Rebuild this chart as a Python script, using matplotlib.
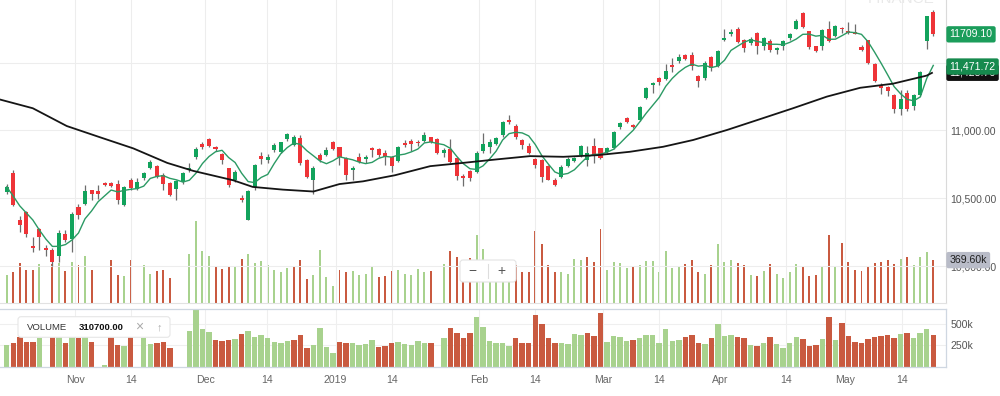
import numpy as np
import pandas as pd
import matplotlib
matplotlib.use("Agg")
import matplotlib.pyplot as plt
import matplotlib.transforms as mtransforms
from matplotlib.patches import FancyBboxPatch
from matplotlib.lines import Line2D

# daily candles, oldest first
opens = [
    10547, 10690, 10337, 10398, 10146, 10275, 10131, 10120, 10077, 10233,
    10201, 10435, 10461, 10559, 10554, 10616, 10616, 10604, 10448, 10638,
    10572, 10646, 10727, 10737, 10670, 10614, 10565, 10621, 10707, 10801,
    10898, 10935, 10876, 10826, 10720, 10633, 10505, 10342, 10584, 10811,
    10781, 10855, 10843, 10935, 10893, 10942, 10781, 10633, 10818, 10818,
    10917, 10876, 10794, 10705, 10806, 10787, 10868, 10861, 10836, 10806,
    10776, 10905, 10920, 10917, 10924, 10950, 10935, 10836, 10861, 10794,
    10668, 10702, 10695, 10850, 10880, 10900, 10967, 11078, 11033, 10930,
    10887, 10787, 10781, 10739, 10633, 10658, 10737, 10776, 10818, 10781,
    10885, 10868, 10843, 10868, 11024, 11090, 11041, 11078, 11239, 11332,
    11387, 11382, 11484, 11510, 11560, 11560, 11404, 11387, 11542, 11473,
    11665, 11713, 11750, 11671, 11646, 11720, 11621, 11658, 11591, 11621,
    11683, 11750, 11868, 11732, 11621, 11621, 11745, 11695, 11757, 11732,
    11730, 11614, 11665, 11490, 11337, 11320, 11263, 11157, 11280, 11182,
    11263, 11659, 11873]
highs = [
    10604, 10707, 10369, 10406, 10218, 10280, 10152, 10137, 10268, 10268,
    10398, 10455, 10601, 10562, 10596, 10621, 10621, 10638, 10589, 10650,
    10646, 10695, 10781, 10744, 10683, 10621, 10638, 10695, 10757, 10876,
    10917, 10942, 10885, 10831, 10727, 10707, 10522, 10559, 10750, 10843,
    10826, 10905, 10917, 10984, 10967, 10967, 10787, 10737, 10836, 10876,
    10924, 10880, 10806, 10737, 10836, 10818, 10876, 10868, 10855, 10811,
    10885, 10930, 10935, 10930, 10991, 10954, 10942, 10868, 10935, 10806,
    10680, 10707, 10850, 10984, 10935, 10950, 11073, 11115, 11048, 10935,
    10910, 10794, 10787, 10744, 10646, 10744, 10806, 10806, 10893, 10885,
    10942, 10872, 10880, 10996, 11065, 11102, 11048, 11182, 11320, 11354,
    11394, 11490, 11535, 11565, 11567, 11579, 11411, 11510, 11552, 11597,
    11745, 11745, 11762, 11676, 11691, 11725, 11691, 11676, 11614, 11665,
    11720, 11819, 11873, 11737, 11626, 11750, 11806, 11775, 11765, 11799,
    11782, 11634, 11671, 11498, 11350, 11330, 11270, 11295, 11295, 11270,
    11441, 11848, 11888]
lows = [
    10530, 10441, 10250, 10218, 10102, 10115, 10078, 10003, 10030, 10176,
    10102, 10349, 10448, 10485, 10498, 10591, 10584, 10461, 10441, 10559,
    10559, 10633, 10713, 10646, 10559, 10515, 10490, 10604, 10695, 10787,
    10861, 10876, 10850, 10752, 10584, 10621, 10472, 10337, 10559, 10752,
    10761, 10843, 10831, 10924, 10885, 10744, 10646, 10535, 10769, 10811,
    10855, 10744, 10633, 10633, 10757, 10757, 10806, 10806, 10744, 10695,
    10769, 10880, 10850, 10885, 10917, 10910, 10824, 10806, 10757, 10633,
    10589, 10628, 10683, 10831, 10831, 10893, 10954, 11048, 10935, 10861,
    10826, 10720, 10621, 10633, 10589, 10653, 10732, 10764, 10806, 10737,
    10757, 10787, 10836, 10861, 11009, 11053, 11016, 11073, 11231, 11280,
    11337, 11374, 11428, 11498, 11522, 11448, 11320, 11374, 11436, 11465,
    11658, 11700, 11646, 11577, 11633, 11567, 11597, 11577, 11567, 11597,
    11671, 11745, 11757, 11602, 11577, 11597, 11651, 11690, 11720, 11715,
    11715, 11584, 11493, 11354, 11270, 11256, 11127, 11115, 11147, 11152,
    11256, 11602, 11695]
closes = [
    10584, 10448, 10300, 10238, 10131, 10213, 10115, 10028, 10243, 10194,
    10381, 10375, 10552, 10530, 10535, 10596, 10591, 10485, 10584, 10576,
    10621, 10683, 10769, 10658, 10604, 10522, 10628, 10687, 10727, 10861,
    10880, 10885, 10863, 10781, 10596, 10695, 10490, 10554, 10744, 10787,
    10806, 10893, 10913, 10972, 10954, 10757, 10658, 10727, 10779, 10855,
    10863, 10806, 10670, 10727, 10769, 10806, 10853, 10818, 10801, 10740,
    10880, 10890, 10900, 10905, 10967, 10917, 10831, 10855, 10769, 10665,
    10652, 10648, 10831, 10900, 10917, 10942, 11060, 11066, 10950, 10893,
    10831, 10744, 10658, 10638, 10601, 10732, 10787, 10794, 10885, 10836,
    10818, 10794, 10868, 10991, 11058, 11065, 11024, 11176, 11313, 11350,
    11355, 11436, 11468, 11542, 11528, 11473, 11362, 11498, 11461, 11584,
    11683, 11728, 11651, 11609, 11676, 11621, 11683, 11591, 11609, 11658,
    11708, 11806, 11765, 11616, 11584, 11740, 11658, 11769, 11745, 11720,
    11715, 11596, 11498, 11362, 11313, 11288, 11157, 11231, 11157, 11263,
    11428, 11843, 11709.1]
# volume in thousands (0 = no data that day)
volumes = [
    253, 273, 344, 292, 292, 338, 0, 340, 350, 280,
    355, 331, 401, 292, 0, 19, 368, 253, 242, 368,
    0, 330, 261, 280, 292, 223, 0, 0, 415, 680,
    442, 400, 311, 300, 311, 319, 376, 415, 349, 365,
    330, 292, 273, 303, 311, 369, 215, 253, 453, 234,
    165, 292, 273, 280, 253, 261, 311, 234, 242, 280,
    288, 261, 253, 300, 273, 280, 0, 338, 445, 395,
    338, 388, 572, 457, 303, 273, 280, 242, 330, 273,
    273, 599, 495, 330, 273, 273, 261, 376, 369, 395,
    357, 618, 292, 357, 349, 303, 311, 330, 365, 365,
    273, 442, 303, 311, 342, 369, 273, 261, 330, 495,
    357, 369, 349, 330, 253, 242, 280, 342, 261, 223,
    273, 342, 319, 242, 253, 319, 572, 311, 503, 357,
    292, 280, 319, 349, 357, 369, 338, 376, 395, 330,
    395, 434, 369.6]

# long moving average: (candle index, value)
ma_long_idx = [-1, 4, 9.2, 14.3, 19.4, 24.6, 28.6, 34.7, 37.7, 42.3, 47, 51, 54.6,
               59.5, 64.9, 69.9, 75.1, 80.2, 85.3, 90.5, 95.5, 100.6, 105.2, 110.4,
               115.4, 120.5, 125.7, 130.8, 135.8, 141, 141.8]
ma_long_val = [11228, 11164, 11033, 10950, 10868, 10761, 10702, 10633, 10584, 10564,
               10550, 10605, 10625, 10670, 10737, 10761, 10787, 10811, 10806, 10818,
               10843, 10880, 10930, 11004, 11083, 11164, 11250, 11315, 11345, 11405,
               11425]

tick_labels = ['Nov', '14', 'Dec', '14', '2019', '14', 'Feb', '14', 'Mar', '14',
               'Apr', '14', 'May', '14']
tick_idx = [10.5, 19, 30.4, 39.9, 50.4, 59, 72.4, 81, 91.4, 100, 109.4, 119.4, 128.5, 137.2]

price_ticks = [10000, 10500, 11000, 11500]
# 11,500.00 sits fully under the green tag in the original, so no label there
price_tick_labels = ['10,000.00', '10,500.00', '11,000.00', '']
vol_ticks = [250, 500]
vol_tick_labels = ['250k', '500k']
last_close_label = '11709.10'
ma_fast_label = '11,471.72'
ma_long_label = '11,425.76'
last_vol_label = '369.60k'
legend_value = '310700.00'

GREEN = '#12a35c'
RED = '#ee3438'
VOL_GREEN = '#a8d28e'
VOL_RED = '#c95a40'
W, H = 1000.0, 396.0

plt.rcParams['font.family'] = ['Liberation Sans', 'DejaVu Sans']


def rect(x0, y0, x1, y1):
    # pixel box (top-left origin) -> figure fraction
    return [x0 / W, 1 - y1 / H, (x1 - x0) / W, (y1 - y0) / H]


o = np.array(opens, dtype=float)
h = np.array(highs, dtype=float)
l = np.array(lows, dtype=float)
c = np.array(closes, dtype=float)
v = np.array(volumes, dtype=float)
idx = np.arange(len(c))

up = c >= o
prev = np.r_[c[0], c[:-1]]
vol_colors = np.where(c >= prev, VOL_GREEN, VOL_RED)
ma_fast = pd.Series(c).rolling(5, min_periods=1).mean()

fig = plt.figure(figsize=(10, 3.96), dpi=100)
ax_ov = fig.add_axes(rect(0, 0, 946, 303.3))
ax = fig.add_axes(rect(0, 0, 946, 303.3))
ax_vol = fig.add_axes(rect(0, 309.3, 946, 367))
ax.set_zorder(2)
ax_ov.set_zorder(1)
ax.patch.set_visible(False)

xlim = (-1.03, 143.95)
for a in (ax, ax_ov, ax_vol):
    a.set_xlim(*xlim)

# volume overlay behind the candles
ax_ov.bar(idx, v, width=0.3, color=vol_colors)
ax_ov.set_ylim(24, 24 + 303.3 * 8)
ax_ov.set_axis_off()

# candles
ax.vlines(idx, l, h, color='#6d6d6d', lw=0.9, zorder=3)
body = np.maximum(np.abs(c - o), 9)
ax.bar(idx, body, bottom=np.minimum(o, c), width=0.62,
       color=np.where(up, GREEN, RED), zorder=4)
ax.plot(idx, ma_fast, color='#2b9a64', lw=1.0, zorder=5)
ax.plot(ma_long_idx, ma_long_val, color='#151515', lw=1.3, zorder=5)

ax.set_ylim(9725.6, 11962.4)
ax.yaxis.tick_right()
ax.set_yticks(price_ticks)
ax.set_yticklabels(price_tick_labels)
ax.tick_params(axis='y', length=0, pad=3, labelsize=7.6, labelcolor='#555555')
ax.set_xticks(tick_idx)
ax.tick_params(axis='x', length=0, labelbottom=False)
ax.grid(True, color='#ededed', lw=0.8)
ax.set_axisbelow(True)
for s in ('top', 'left'):
    ax.spines[s].set_visible(False)
ax.spines['right'].set_color('#dadada')
ax.spines['bottom'].set_color('#e2e2e2')
ax.spines['right'].set_linewidth(0.8)
ax.spines['bottom'].set_linewidth(0.8)

# value tags on the right edge
tr = mtransforms.blended_transform_factory(ax.transAxes, ax.transData)
tr_ov = mtransforms.blended_transform_factory(ax.transAxes, ax_ov.transData)
tag = dict(ha='left', va='center', fontsize=7.6, clip_on=False, zorder=10)
x_tag = 1 + 3.5 / 946
ax.text(x_tag, 11425.76, ma_long_label, color='white', transform=tr,
        bbox=dict(boxstyle='round,pad=0.3,rounding_size=0.2', fc='#111111', ec='none'), **tag)
ax.text(x_tag, 11471.72, ma_fast_label, color='white', transform=tr,
        bbox=dict(boxstyle='round,pad=0.3,rounding_size=0.2', fc='#168a4e', ec='none'), **tag)
ax.text(x_tag, 11709.1, last_close_label, color='white', transform=tr,
        bbox=dict(boxstyle='round,pad=0.3,rounding_size=0.2', fc='#1b9d5b', ec='none'), **tag)
ax.text(x_tag, 369.6, last_vol_label, color='#1e1e1e', transform=tr_ov,
        bbox=dict(boxstyle='round,pad=0.3,rounding_size=0.2', fc='#b9bcc8', ec='none'), **tag)

# lower volume panel
ax_vol.bar(idx, v, width=0.84, color=vol_colors)
ax_vol.set_ylim(0, 665)
ax_vol.yaxis.tick_right()
ax_vol.set_yticks(vol_ticks)
ax_vol.set_yticklabels(vol_tick_labels)
ax_vol.tick_params(axis='y', length=0, pad=3, labelsize=7.6, labelcolor='#555555')
ax_vol.set_xticks(tick_idx)
ax_vol.set_xticklabels(tick_labels)
ax_vol.tick_params(axis='x', length=0, pad=5.5, labelsize=7.6, labelcolor='#666666')
ax_vol.grid(True, color='#efefef', lw=0.8)
ax_vol.set_axisbelow(True)
ax_vol.spines['left'].set_visible(False)
for s in ('top', 'right', 'bottom'):
    ax_vol.spines[s].set_color('#cfd7e1')
    ax_vol.spines[s].set_linewidth(0.9)

# zoom control (- | +)
ident = mtransforms.IdentityTransform()
fig.add_artist(FancyBboxPatch((460, H - 282), 56, 22, boxstyle='round,pad=0,rounding_size=3',
                              transform=ident, fc='white', ec='#e4e4e4', lw=0.8, zorder=20))
fig.add_artist(Line2D([488 / W, 488 / W], [1 - 264 / H, 1 - 278 / H], color='#dddddd', lw=0.8, zorder=21))
fig.text(472 / W, 1 - 271 / H, '\u2212', ha='center', va='center', fontsize=10, color='#555555', zorder=21)
fig.text(501 / W, 1 - 271 / H, '+', ha='center', va='center', fontsize=10, color='#555555', zorder=21)

# volume legend box
fig.add_artist(FancyBboxPatch((18, H - 337.3), 152, 20.6, boxstyle='round,pad=0,rounding_size=3',
                              transform=ident, fc='white', ec='#e6e6e6', lw=0.8, zorder=20))
fig.text(26.7 / W, 1 - 327 / H, 'VOLUME', ha='left', va='center', fontsize=6.8, color='#333333', zorder=21)
fig.text(79 / W, 1 - 327 / H, legend_value, ha='left', va='center', fontsize=6.8,
         fontweight='bold', color='#111111', zorder=21)
fig.text(139 / W, 1 - 327 / H, '\u00d7', ha='center', va='center', fontsize=10, color='#aaaaaa', zorder=21)
fig.text(159 / W, 1 - 327 / H, '\u2191', ha='center', va='center', fontsize=8, color='#aaaaaa', zorder=21)

# faint watermark cut off at the top
fig.text(901 / W, 1 + 1 / H, 'FINANCE', ha='center', va='center', fontsize=11, color='#e9e9e9')

fig.savefig('out.png', dpi=100)
